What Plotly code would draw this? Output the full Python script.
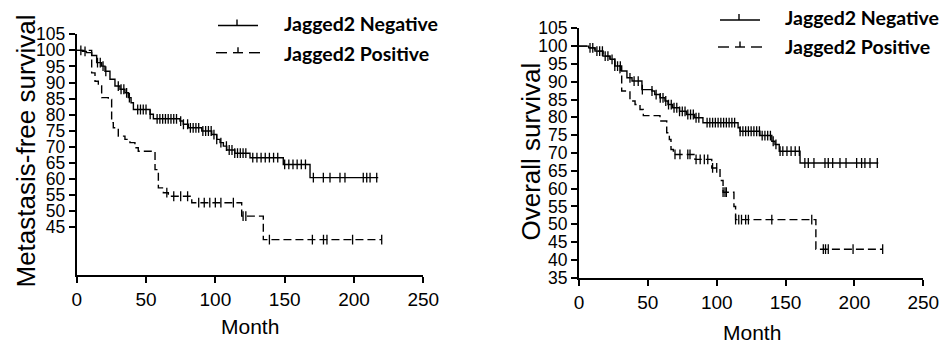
import numpy as np
import plotly.graph_objects as go

# ---------------- DATA ----------------
# Left panel: Metastasis-free survival
mfs_neg_t = [0, 4, 7, 10.8, 14.4, 18, 20.4, 24, 27.6, 31.2, 34.8, 37.2, 39.2, 40.9, 52.9, 55.3,
             74.5, 76.9, 80.5, 90.2, 97.4, 101, 103.4, 105.8, 108.2, 114, 125, 149, 168.3, 217.5]
mfs_neg_s = [100, 99.7, 99.3, 98.4, 96.2, 95.1, 93.5, 91, 88.9, 87.9, 86.8, 85.3, 83.7, 81.6, 80.1, 78.7,
             78, 77, 75.9, 74.9, 73.8, 72.3, 71.3, 70.2, 69.0, 68.0, 66.6, 64.5, 60.4, 60.4]
mfs_neg_cens = [3, 6, 15, 17, 19, 21, 30, 32, 34, 36, 38, 44, 46, 48, 50, 53, 58, 60, 62, 64, 66, 68,
                70, 72, 75, 77, 80, 82, 84, 86, 88, 91, 93, 95, 97, 99, 101, 104, 108, 110, 112, 114,
                116, 118, 120, 122, 127, 130, 133, 136, 139, 142, 145, 150, 153, 156, 159, 162, 165,
                170.7, 177.9, 182.7, 189.9, 193.5, 206.7, 209.2, 211.6, 216.4]

mfs_pos_t = [0, 10.8, 13.2, 15.6, 18, 22.8, 25.2, 26.4, 30, 34.8, 38.4, 42, 44.4, 56.5, 58.9, 62.5,
             66.1, 83, 119, 134.6, 220]
mfs_pos_s = [100, 93, 90.4, 88.9, 85.3, 84.7, 77.5, 75.9, 73.3, 72.3, 71.3, 69.7, 68.6, 62.9, 57.2, 55.7,
             54.6, 52.6, 48.4, 41.1, 41.1]
mfs_pos_cens = [65, 70, 75, 80, 88, 92, 96, 100, 104, 113, 120, 122, 139, 170, 178, 180.5, 199, 220]

# Right panel: Overall survival
os_neg_t = [0, 7, 11.6, 17.4, 22.5, 26, 31, 34.8, 38.5, 45.7, 53, 55, 58.8, 62.4, 64.6, 68, 73, 78,
            84, 90, 115.5, 116.9, 131.4, 140, 142.3, 145.4, 160.5, 217.3]
os_neg_s = [100, 99.5, 98.6, 97.2, 96.3, 94.4, 93, 91.1, 90.2, 87.8, 87.4, 86.4, 85.5, 84.6, 83.6, 82.7,
            81.7, 80.8, 79.9, 78.5, 77.1, 76.1, 74.9, 73.3, 72.4, 70.5, 67.2, 67.2]
os_neg_cens = [8, 10, 13, 15, 17, 19, 21, 24, 26, 28, 30, 37, 40, 43, 46, 53, 56, 59, 61, 63, 65, 67,
               69, 71, 73, 75, 77, 79, 81, 83, 85, 87, 93, 95, 97, 99, 101, 103, 105, 107, 109, 111,
               113, 117, 119, 121, 123, 125, 127, 129, 131, 133, 135, 137, 139, 141, 143, 146, 148,
               151, 154, 157, 160, 164, 166.5, 170.6, 178.6, 181, 184.2, 189.5, 193.9, 201.6, 205.2,
               207.6, 211.3, 216.6]

os_pos_t = [0, 7, 11.6, 17.4, 22.5, 26, 29.8, 31, 37, 40.7, 44.3, 46.7, 58.8, 63.7, 65.6, 66.8, 68.5,
            84.2, 96.4, 102.4, 104.6, 112.5, 113.7, 172, 220.5]
os_pos_s = [100, 99.5, 98.6, 97.2, 96.3, 94.4, 92.5, 87.4, 84.6, 83.6, 82.2, 80.5, 79, 75.7, 73.8, 71,
            69.6, 68.2, 65.8, 62.3, 59.0, 55, 51.3, 43, 43]
os_pos_cens = [69.7, 73.3, 79, 80.6, 85, 88, 91, 93.5, 97, 100, 104.6, 106, 107, 113.7, 116, 118, 121,
               123, 140, 169, 177.4, 179, 181, 199, 220.5]

x_ticks = [0, 50, 100, 150, 200, 250]
left_y_ticks = [45, 50, 55, 60, 65, 70, 75, 80, 85, 90, 95, 100, 105]
right_y_ticks = [35, 40, 45, 50, 55, 60, 65, 70, 75, 80, 85, 90, 95, 100, 105]
legend_labels = ["Jagged2 Negative", "Jagged2 Positive"]
left_ytitle = "Metastasis-free survival"
right_ytitle = "Overall survival"
xtitle = "Month"

# ---------------- FIGURE ----------------
W, H = 941, 343


def px(x):
    return x / W


def py(y):
    return 1 - y / H


def step_value(t, s, c):
    t = np.asarray(t)
    s = np.asarray(s)
    idx = np.searchsorted(t, np.asarray(c), side="right") - 1
    return s[np.clip(idx, 0, len(s) - 1)]


fig = go.Figure()

panels = [
    ("x", "y", mfs_neg_t, mfs_neg_s, mfs_neg_cens, mfs_pos_t, mfs_pos_s, mfs_pos_cens),
    ("x2", "y2", os_neg_t, os_neg_s, os_neg_cens, os_pos_t, os_pos_s, os_pos_cens),
]
for xa, ya, nt, ns, nc, pt, ps, pc in panels:
    fig.add_trace(go.Scatter(x=nt, y=ns, mode="lines", line=dict(color="black", width=1.4, shape="hv"),
                             xaxis=xa, yaxis=ya, showlegend=False, hoverinfo="skip"))
    fig.add_trace(go.Scatter(x=nc, y=step_value(nt, ns, nc), mode="markers",
                             marker=dict(symbol="line-ns", size=7, line=dict(color="black", width=1.3)),
                             xaxis=xa, yaxis=ya, showlegend=False, hoverinfo="skip"))
    fig.add_trace(go.Scatter(x=pt, y=ps, mode="lines",
                             line=dict(color="black", width=1.4, shape="hv", dash="8px,4px"),
                             xaxis=xa, yaxis=ya, showlegend=False, hoverinfo="skip"))
    fig.add_trace(go.Scatter(x=pc, y=step_value(pt, ps, pc), mode="markers",
                             marker=dict(symbol="line-ns", size=7, line=dict(color="black", width=1.3)),
                             xaxis=xa, yaxis=ya, showlegend=False, hoverinfo="skip"))

xtickfont = dict(family="Liberation Sans, Arial, sans-serif", size=19, color="black")
ytickfont = dict(family="Liberation Sans, Arial, sans-serif", size=17.5, color="black")
axis_common = dict(showline=True, linewidth=2, linecolor="black", ticks="outside", ticklen=6,
                   tickwidth=2, tickcolor="black", showgrid=False, zeroline=False,
                   fixedrange=True, automargin=False)

fig.update_layout(
    width=W, height=H, margin=dict(l=0, r=0, t=0, b=0, autoexpand=False),
    paper_bgcolor="white", plot_bgcolor="white",
    xaxis=dict(domain=[px(76.7), px(423.3)], range=[0, 250], tickvals=x_ticks, anchor="y",
               tickfont=xtickfont, **axis_common),
    yaxis=dict(domain=[py(275.3), py(34.3)], range=[30, 105], tickvals=left_y_ticks, anchor="x",
               ticklabelstandoff=0, tickfont=ytickfont, **axis_common),
    xaxis2=dict(domain=[px(579), px(923.3)], range=[0, 250], tickvals=x_ticks, anchor="y2",
                tickfont=xtickfont, **axis_common),
    yaxis2=dict(domain=[py(277.7), py(28.3)], range=[35, 105], tickvals=right_y_ticks, anchor="x2",
                ticklabelstandoff=0, tickfont=ytickfont, **axis_common),
)

titlefont = dict(family="Liberation Sans, Arial, sans-serif", size=26, color="black")
xtitlefont = dict(family="Liberation Sans, Arial, sans-serif", size=21, color="black")
legfont = dict(family="Lato, sans-serif", size=19.5, color="black", weight="bold")

annotations = [
    dict(text=left_ytitle, x=px(25), y=py(151.5), textangle=-90, font=titlefont),
    dict(text=right_ytitle, x=px(530), y=py(151.5), textangle=-90, font=titlefont),
    dict(text=xtitle, x=px(250), y=py(326), font=xtitlefont),
    dict(text=xtitle, x=px(751.5), y=py(332), font=xtitlefont),
    dict(text=legend_labels[0], x=px(282), y=py(23), xanchor="left", font=legfont),
    dict(text=legend_labels[1], x=px(282), y=py(54), xanchor="left", font=legfont),
    dict(text=legend_labels[0], x=px(783), y=py(17), xanchor="left", font=legfont),
    dict(text=legend_labels[1], x=px(783), y=py(47), xanchor="left", font=legfont),
]
for a in annotations:
    a.update(xref="paper", yref="paper", showarrow=False, yanchor="middle")
    a.setdefault("xanchor", "center")
fig.update_layout(annotations=annotations)


def seg(x0, y0, x1, y1):
    return dict(type="line", xref="paper", yref="paper", x0=px(x0), y0=py(y0), x1=px(x1), y1=py(y1),
                line=dict(color="black", width=1.4))


shapes = []
for lx, ny, pyy in [(218, 25.5, 52.7), (720, 20, 47)]:
    # Negative: solid with tick
    shapes.append(seg(lx, ny, lx + 40, ny))
    shapes.append(seg(lx + 19, ny - 6, lx + 19, ny))
    # Positive: dash + dash
    shapes.append(seg(lx - 2, pyy, lx + 9, pyy))
    shapes.append(seg(lx + 15, pyy, lx + 25, pyy))
    shapes.append(seg(lx + 20, pyy - 5.5, lx + 20, pyy))
    shapes.append(seg(lx + 31, pyy, lx + 42, pyy))
fig.update_layout(shapes=shapes)

fig.write_html("out.html", config={"displayModeBar": False, "staticPlot": True},
               post_script="document.body.style.margin='0px';document.body.style.overflow='hidden';")
